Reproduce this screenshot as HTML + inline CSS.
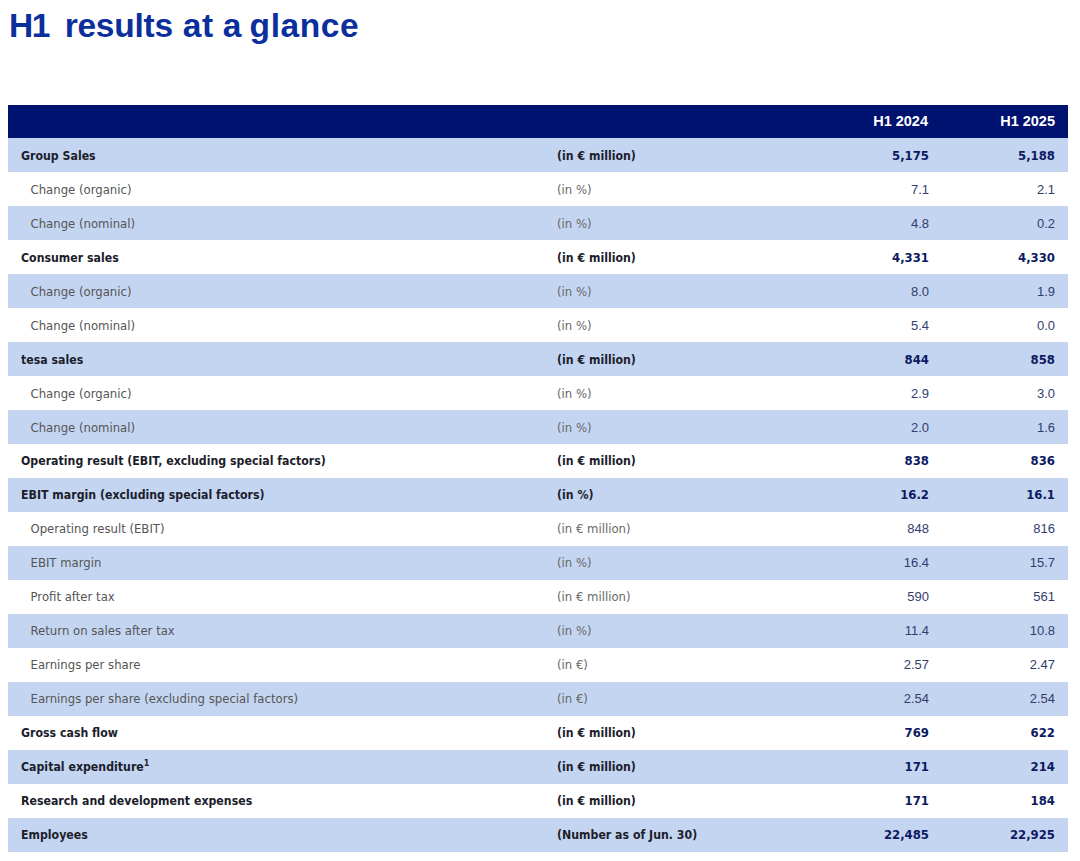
<!DOCTYPE html>
<html lang="en">
<head>
<meta charset="utf-8">
<title>H1 results at a glance</title>
<style>
html,body{margin:0;padding:0;background:#fff;}
body{width:1080px;height:861px;position:relative;overflow:hidden;}
h1{position:absolute;left:0;top:1px;width:400px;height:50px;margin:0;font:bold 33.5px/50px "Liberation Sans",sans-serif;color:#0b2f9c;white-space:nowrap;}
h1 span{position:absolute;top:0;}
table.kpi{position:absolute;left:8px;top:105px;width:1060px;border-collapse:collapse;border-spacing:0;table-layout:fixed;}
col.k-lab{width:536px;}
col.k-unit{width:272px;}
col.k-v1{width:126px;}
col.k-v2{width:126px;}
th,td{padding:0;margin:0;border:0;white-space:nowrap;overflow:visible;vertical-align:top;}
td>span,th>span{display:block;position:relative;}
thead tr{height:33px;background:#001270;}
thead th{height:33px;color:#fff;font:bold 14.5px/33px "Liberation Sans",sans-serif;text-align:right;}
thead th.v1{padding-right:14px;}
thead th.v2{padding-right:13px;}
tbody tr{height:34px;}
tbody td{height:34px;line-height:34px;}
tr.alt{background:#c4d5f1;}
tr.wh{background:#fff;}
td.lab{padding-left:13px;}
tr.n td.lab{padding-left:22.5px;}
td.unit{padding-left:13px;}
td.v1{text-align:right;padding-right:13px;}
td.v2{text-align:right;padding-right:13px;}
td.lab>span,td.unit>span{top:1px;}
tr.b td.lab>span,tr.b td.unit>span{font:bold 11px/34px "DejaVu Sans",sans-serif;color:#1c1d2b;transform:scaleY(1.06);transform-origin:0 60%;}
tr.n td.lab>span,tr.n td.unit>span{font:normal 11.7px/34px "DejaVu Sans",sans-serif;color:#555;}
tr.n td.unit>span{color:#686868;}
tr.b td.v1>span,tr.b td.v2>span{font:bold 11.7px/34px "DejaVu Sans",sans-serif;color:#0d1a63;}
tr.n td.v1>span,tr.n td.v2>span{font:normal 13px/34px "Liberation Sans",sans-serif;color:#323d6e;top:0.6px;}
tr.b.lo td>span{top:1px;}
tr.b.lo td.lab>span,tr.b.lo td.unit>span{top:2px;}
tr.n.hi td>span{top:0;}
sup{font-size:8px;line-height:0;vertical-align:5px;}

</style>
</head>
<body>
<h1><span style="left:9px;letter-spacing:-1.5px">H1</span> <span style="left:64.7px;letter-spacing:-0.25px">results</span> <span style="left:182.8px;letter-spacing:0.5px">at</span> <span style="left:222.8px">a</span> <span style="left:249.6px;letter-spacing:0.6px">glance</span></h1>
<table class="kpi">
<colgroup><col class="k-lab"><col class="k-unit"><col class="k-v1"><col class="k-v2"></colgroup>
<thead><tr><th></th><th></th><th class="v1"><span>H1 2024</span></th><th class="v2"><span>H1 2025</span></th></tr></thead>
<tbody>
<tr class="alt b lo"><td class="lab"><span>Group Sales</span></td><td class="unit"><span>(in € million)</span></td><td class="v1"><span>5,175</span></td><td class="v2"><span>5,188</span></td></tr>
<tr class="wh n"><td class="lab"><span>Change (organic)</span></td><td class="unit"><span>(in %)</span></td><td class="v1"><span>7.1</span></td><td class="v2"><span>2.1</span></td></tr>
<tr class="alt n"><td class="lab"><span>Change (nominal)</span></td><td class="unit"><span>(in %)</span></td><td class="v1"><span>4.8</span></td><td class="v2"><span>0.2</span></td></tr>
<tr class="wh b lo"><td class="lab"><span>Consumer sales</span></td><td class="unit"><span>(in € million)</span></td><td class="v1"><span>4,331</span></td><td class="v2"><span>4,330</span></td></tr>
<tr class="alt n"><td class="lab"><span>Change (organic)</span></td><td class="unit"><span>(in %)</span></td><td class="v1"><span>8.0</span></td><td class="v2"><span>1.9</span></td></tr>
<tr class="wh n"><td class="lab"><span>Change (nominal)</span></td><td class="unit"><span>(in %)</span></td><td class="v1"><span>5.4</span></td><td class="v2"><span>0.0</span></td></tr>
<tr class="alt b lo"><td class="lab"><span>tesa sales</span></td><td class="unit"><span>(in € million)</span></td><td class="v1"><span>844</span></td><td class="v2"><span>858</span></td></tr>
<tr class="wh n"><td class="lab"><span>Change (organic)</span></td><td class="unit"><span>(in %)</span></td><td class="v1"><span>2.9</span></td><td class="v2"><span>3.0</span></td></tr>
<tr class="alt n"><td class="lab"><span>Change (nominal)</span></td><td class="unit"><span>(in %)</span></td><td class="v1"><span>2.0</span></td><td class="v2"><span>1.6</span></td></tr>
<tr class="wh b"><td class="lab"><span>Operating result (EBIT, excluding special factors)</span></td><td class="unit"><span>(in € million)</span></td><td class="v1"><span>838</span></td><td class="v2"><span>836</span></td></tr>
<tr class="alt b"><td class="lab"><span>EBIT margin (excluding special factors)</span></td><td class="unit"><span>(in %)</span></td><td class="v1"><span>16.2</span></td><td class="v2"><span>16.1</span></td></tr>
<tr class="wh n hi"><td class="lab"><span>Operating result (EBIT)</span></td><td class="unit"><span>(in € million)</span></td><td class="v1"><span>848</span></td><td class="v2"><span>816</span></td></tr>
<tr class="alt n hi"><td class="lab"><span>EBIT margin</span></td><td class="unit"><span>(in %)</span></td><td class="v1"><span>16.4</span></td><td class="v2"><span>15.7</span></td></tr>
<tr class="wh n hi"><td class="lab"><span>Profit after tax</span></td><td class="unit"><span>(in € million)</span></td><td class="v1"><span>590</span></td><td class="v2"><span>561</span></td></tr>
<tr class="alt n hi"><td class="lab"><span>Return on sales after tax</span></td><td class="unit"><span>(in %)</span></td><td class="v1"><span>11.4</span></td><td class="v2"><span>10.8</span></td></tr>
<tr class="wh n hi"><td class="lab"><span>Earnings per share</span></td><td class="unit"><span>(in €)</span></td><td class="v1"><span>2.57</span></td><td class="v2"><span>2.47</span></td></tr>
<tr class="alt n hi"><td class="lab"><span>Earnings per share (excluding special factors)</span></td><td class="unit"><span>(in €)</span></td><td class="v1"><span>2.54</span></td><td class="v2"><span>2.54</span></td></tr>
<tr class="wh b"><td class="lab"><span>Gross cash flow</span></td><td class="unit"><span>(in € million)</span></td><td class="v1"><span>769</span></td><td class="v2"><span>622</span></td></tr>
<tr class="alt b"><td class="lab"><span>Capital expenditure<sup>1</sup></span></td><td class="unit"><span>(in € million)</span></td><td class="v1"><span>171</span></td><td class="v2"><span>214</span></td></tr>
<tr class="wh b"><td class="lab"><span>Research and development expenses</span></td><td class="unit"><span>(in € million)</span></td><td class="v1"><span>171</span></td><td class="v2"><span>184</span></td></tr>
<tr class="alt b"><td class="lab"><span>Employees</span></td><td class="unit"><span>(Number as of Jun. 30)</span></td><td class="v1"><span>22,485</span></td><td class="v2"><span>22,925</span></td></tr>
</tbody>
</table>
</body>
</html>
